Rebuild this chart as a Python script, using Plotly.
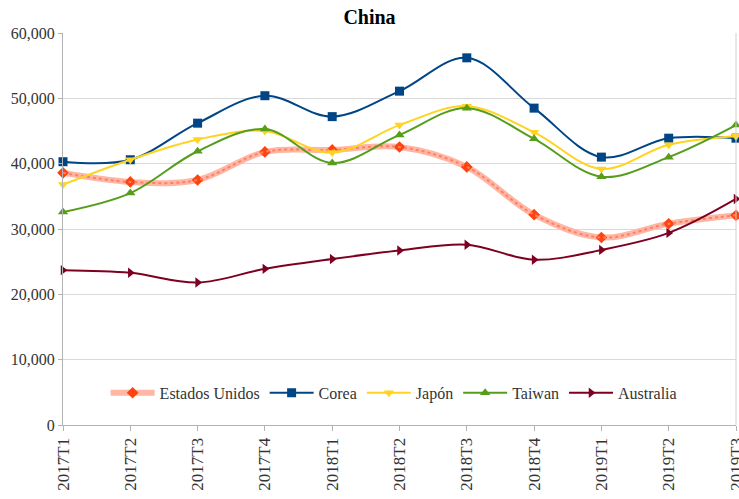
import plotly.graph_objects as go

categories = ["2017T1", "2017T2", "2017T3", "2017T4", "2018T1", "2018T2",
              "2018T3", "2018T4", "2019T1", "2019T2", "2019T3"]
estados_unidos = [38600, 37200, 37500, 41800, 42100, 42550, 39500, 32200, 28700, 30800, 32100]
corea = [40300, 40600, 46200, 50400, 47200, 51100, 56200, 48500, 41000, 43900, 43900]
japon = [36800, 40600, 43700, 45000, 41700, 45900, 48800, 44800, 39200, 42900, 44200]
taiwan = [32600, 35500, 41900, 45300, 40100, 44400, 48500, 43800, 38000, 41000, 45900]
australia = [23700, 23300, 21800, 23900, 25400, 26700, 27600, 25300, 26800, 29400, 34600]

y_ticks = [0, 10000, 20000, 30000, 40000, 50000, 60000]
y_tick_text = ["0", "10,000", "20,000", "30,000", "40,000", "50,000", "60,000"]

font_family = "Liberation Serif"

fig = go.Figure()

# Estados Unidos: thick textured light-red line
fig.add_trace(go.Scatter(
    x=categories, y=estados_unidos, name="Estados Unidos", mode="lines+markers",
    line=dict(color="#ffb6a4", width=6, shape="spline", smoothing=1.0),
    marker=dict(symbol="diamond", size=9, color="#ff420e"),
    legendgroup="eu", cliponaxis=False,
))
fig.add_trace(go.Scatter(
    x=categories, y=estados_unidos, name="Estados Unidos", mode="lines",
    line=dict(color="#ff7f62", width=2, shape="spline", smoothing=1.0, dash="dot"),
    legendgroup="eu", showlegend=False, hoverinfo="skip", cliponaxis=False,
))

series = [
    ("Corea", corea, "#004586", "square"),
    ("Japón", japon, "#ffd320", "triangle-down"),
    ("Taiwan", taiwan, "#579d1c", "triangle-up"),
    ("Australia", australia, "#7e0021", "triangle-right"),
]
for name, vals, color, sym in series:
    fig.add_trace(go.Scatter(
        x=categories, y=vals, name=name, mode="lines+markers",
        line=dict(color=color, width=2, shape="spline", smoothing=1.0),
        marker=dict(symbol=sym, size=9, color=color),
        cliponaxis=False,
    ))

fig.update_layout(
    width=739, height=499,
    margin=dict(l=63, r=3, t=33, b=74, autoexpand=False),
    paper_bgcolor="white", plot_bgcolor="white",
    font=dict(family=font_family, size=15, color="#333333"),
    title=dict(text="<b>China</b>", x=0.5, xanchor="center", y=1 - 17 / 499,
               yanchor="middle", yref="container",
               font=dict(family=font_family, size=20, color="black")),
    legend=dict(orientation="h", x=0.492, xanchor="center", y=0.082, yanchor="middle",
                bgcolor="rgba(0,0,0,0)", font=dict(family=font_family, size=16, color="#333333"),
                itemwidth=44, tracegroupgap=0),
    showlegend=True,
)
fig.update_xaxes(
    type="category", range=[0, 10], tickangle=-90, automargin=False,
    showgrid=False, showline=True, linecolor="#b3b3b3", linewidth=1,
    ticks="outside", ticklen=5, tickcolor="#b3b3b3",
    tickfont=dict(family=font_family, size=17, color="#333333"),
    mirror=False,
)
fig.update_yaxes(
    range=[0, 60000], tickvals=y_ticks, ticktext=y_tick_text, automargin=False,
    showgrid=True, gridcolor="#d9d9d9", gridwidth=1,
    showline=True, linecolor="#b3b3b3", linewidth=1,
    ticks="outside", ticklen=4, tickcolor="#b3b3b3",
    zeroline=False,
    tickfont=dict(family=font_family, size=16, color="#333333"),
)
# right border of plot area
fig.add_shape(type="line", xref="paper", yref="paper", x0=1, x1=1, y0=0, y1=1,
              line=dict(color="#d0d0d0", width=1))

fig.write_html("out.html", config={"displayModeBar": False},
               post_script="document.body.style.margin='0';document.body.style.overflow='hidden';")
